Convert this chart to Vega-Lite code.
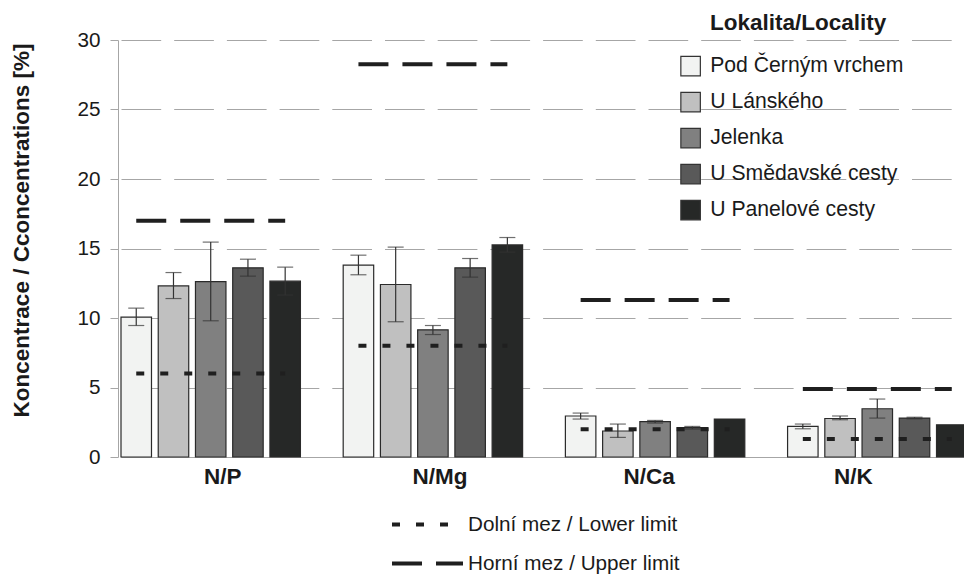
{
  "$schema": "https://vega.github.io/schema/vega-lite/v6.json",
  "width": 846,
  "height": 417,
  "autosize": {"type": "none"},
  "padding": {"left": 118, "top": 40, "right": 0, "bottom": 117},
  "background": "white",
  "config": {
    "view": {"stroke": null},
    "font": "Liberation Sans"
  },
  "datasets": {
    "bars": [
      {"ratio": "N/P", "loc": "Pod Černým vrchem", "value": 10.06, "lo": 9.46, "hi": 10.71},
      {"ratio": "N/P", "loc": "U Lánského", "value": 12.31, "lo": 11.40, "hi": 13.27},
      {"ratio": "N/P", "loc": "Jelenka", "value": 12.62, "lo": 9.80, "hi": 15.46},
      {"ratio": "N/P", "loc": "U Smědavské cesty", "value": 13.61, "lo": 13.01, "hi": 14.23},
      {"ratio": "N/P", "loc": "U Panelové cesty", "value": 12.65, "lo": 11.65, "hi": 13.66},
      {"ratio": "N/Mg", "loc": "Pod Černým vrchem", "value": 13.80, "lo": 13.11, "hi": 14.52},
      {"ratio": "N/Mg", "loc": "U Lánského", "value": 12.41, "lo": 9.73, "hi": 15.10},
      {"ratio": "N/Mg", "loc": "Jelenka", "value": 9.15, "lo": 8.81, "hi": 9.46},
      {"ratio": "N/Mg", "loc": "U Smědavské cesty", "value": 13.61, "lo": 12.94, "hi": 14.28},
      {"ratio": "N/Mg", "loc": "U Panelové cesty", "value": 15.26, "lo": 14.74, "hi": 15.79},
      {"ratio": "N/Ca", "loc": "Pod Černým vrchem", "value": 2.95, "lo": 2.73, "hi": 3.16},
      {"ratio": "N/Ca", "loc": "U Lánského", "value": 1.87, "lo": 1.41, "hi": 2.37},
      {"ratio": "N/Ca", "loc": "Jelenka", "value": 2.54, "lo": 2.44, "hi": 2.63},
      {"ratio": "N/Ca", "loc": "U Smědavské cesty", "value": 2.11, "lo": 2.01, "hi": 2.20},
      {"ratio": "N/Ca", "loc": "U Panelové cesty", "value": 2.73, "lo": null, "hi": null},
      {"ratio": "N/K", "loc": "Pod Černým vrchem", "value": 2.20, "lo": 2.03, "hi": 2.37},
      {"ratio": "N/K", "loc": "U Lánského", "value": 2.77, "lo": 2.68, "hi": 2.95},
      {"ratio": "N/K", "loc": "Jelenka", "value": 3.47, "lo": 2.80, "hi": 4.17},
      {"ratio": "N/K", "loc": "U Smědavské cesty", "value": 2.80, "lo": 2.75, "hi": 2.86},
      {"ratio": "N/K", "loc": "U Panelové cesty", "value": 2.32, "lo": null, "hi": null}
    ],
    "limits": [
      {"ratio": "N/P", "loc": "Pod Černým vrchem", "type": "Dolní mez / Lower limit", "value": 6},
      {"ratio": "N/P", "loc": "U Lánského", "type": "Dolní mez / Lower limit", "value": 6},
      {"ratio": "N/P", "loc": "Jelenka", "type": "Dolní mez / Lower limit", "value": 6},
      {"ratio": "N/P", "loc": "U Smědavské cesty", "type": "Dolní mez / Lower limit", "value": 6},
      {"ratio": "N/P", "loc": "U Panelové cesty", "type": "Dolní mez / Lower limit", "value": 6},
      {"ratio": "N/Mg", "loc": "Pod Černým vrchem", "type": "Dolní mez / Lower limit", "value": 8},
      {"ratio": "N/Mg", "loc": "U Lánského", "type": "Dolní mez / Lower limit", "value": 8},
      {"ratio": "N/Mg", "loc": "Jelenka", "type": "Dolní mez / Lower limit", "value": 8},
      {"ratio": "N/Mg", "loc": "U Smědavské cesty", "type": "Dolní mez / Lower limit", "value": 8},
      {"ratio": "N/Mg", "loc": "U Panelové cesty", "type": "Dolní mez / Lower limit", "value": 8},
      {"ratio": "N/Ca", "loc": "Pod Černým vrchem", "type": "Dolní mez / Lower limit", "value": 2},
      {"ratio": "N/Ca", "loc": "U Lánského", "type": "Dolní mez / Lower limit", "value": 2},
      {"ratio": "N/Ca", "loc": "Jelenka", "type": "Dolní mez / Lower limit", "value": 2},
      {"ratio": "N/Ca", "loc": "U Smědavské cesty", "type": "Dolní mez / Lower limit", "value": 2},
      {"ratio": "N/Ca", "loc": "U Panelové cesty", "type": "Dolní mez / Lower limit", "value": 2},
      {"ratio": "N/K", "loc": "Pod Černým vrchem", "type": "Dolní mez / Lower limit", "value": 1.3},
      {"ratio": "N/K", "loc": "U Lánského", "type": "Dolní mez / Lower limit", "value": 1.3},
      {"ratio": "N/K", "loc": "Jelenka", "type": "Dolní mez / Lower limit", "value": 1.3},
      {"ratio": "N/K", "loc": "U Smědavské cesty", "type": "Dolní mez / Lower limit", "value": 1.3},
      {"ratio": "N/K", "loc": "U Panelové cesty", "type": "Dolní mez / Lower limit", "value": 1.3},
      {"ratio": "N/P", "loc": "Pod Černým vrchem", "type": "Horní mez / Upper limit", "value": 17},
      {"ratio": "N/P", "loc": "U Lánského", "type": "Horní mez / Upper limit", "value": 17},
      {"ratio": "N/P", "loc": "Jelenka", "type": "Horní mez / Upper limit", "value": 17},
      {"ratio": "N/P", "loc": "U Smědavské cesty", "type": "Horní mez / Upper limit", "value": 17},
      {"ratio": "N/P", "loc": "U Panelové cesty", "type": "Horní mez / Upper limit", "value": 17},
      {"ratio": "N/Mg", "loc": "Pod Černým vrchem", "type": "Horní mez / Upper limit", "value": 28.25},
      {"ratio": "N/Mg", "loc": "U Lánského", "type": "Horní mez / Upper limit", "value": 28.25},
      {"ratio": "N/Mg", "loc": "Jelenka", "type": "Horní mez / Upper limit", "value": 28.25},
      {"ratio": "N/Mg", "loc": "U Smědavské cesty", "type": "Horní mez / Upper limit", "value": 28.25},
      {"ratio": "N/Mg", "loc": "U Panelové cesty", "type": "Horní mez / Upper limit", "value": 28.25},
      {"ratio": "N/Ca", "loc": "Pod Černým vrchem", "type": "Horní mez / Upper limit", "value": 11.3},
      {"ratio": "N/Ca", "loc": "U Lánského", "type": "Horní mez / Upper limit", "value": 11.3},
      {"ratio": "N/Ca", "loc": "Jelenka", "type": "Horní mez / Upper limit", "value": 11.3},
      {"ratio": "N/Ca", "loc": "U Smědavské cesty", "type": "Horní mez / Upper limit", "value": 11.3},
      {"ratio": "N/Ca", "loc": "U Panelové cesty", "type": "Horní mez / Upper limit", "value": 11.3},
      {"ratio": "N/K", "loc": "Pod Černým vrchem", "type": "Horní mez / Upper limit", "value": 4.9},
      {"ratio": "N/K", "loc": "U Lánského", "type": "Horní mez / Upper limit", "value": 4.9},
      {"ratio": "N/K", "loc": "Jelenka", "type": "Horní mez / Upper limit", "value": 4.9},
      {"ratio": "N/K", "loc": "U Smědavské cesty", "type": "Horní mez / Upper limit", "value": 4.9},
      {"ratio": "N/K", "loc": "U Panelové cesty", "type": "Horní mez / Upper limit", "value": 4.9}
    ]
  },
  "layer": [
    {
      "data": {"name": "bars"},
      "mark": {"type": "bar", "stroke": "#2a2a2a", "strokeWidth": 1.2},
      "encoding": {
        "x": {
          "field": "ratio", "type": "nominal",
          "sort": ["N/P", "N/Mg", "N/Ca", "N/K"],
          "scale": {"domain": ["N/P", "N/Mg", "N/Ca", "N/K"], "range": [3, 849], "paddingInner": 0.1925, "paddingOuter": 0},
          "axis": {
            "title": null, "grid": false, "ticks": false, "tickSize": 0,
            "domainColor": "#a6a6a6", "domainWidth": 1,
            "labelAngle": 0, "labelPadding": 8, "labelFontSize": 22.5, "labelFontWeight": "bold",
            "labelColor": "#1a1a1a", "labelBaseline": "top",
            "labelOffset": {"condition": [
              {"test": "datum.value === 'N/P'", "value": 12},
              {"test": "datum.value === 'N/Mg'", "value": 7},
              {"test": "datum.value === 'N/Ca'", "value": -6}
            ], "value": -24}
          }
        },
        "xOffset": {
          "field": "loc", "type": "nominal",
          "sort": ["Pod Černým vrchem", "U Lánského", "Jelenka", "U Smědavské cesty", "U Panelové cesty"],
          "scale": {"domain": ["Pod Černým vrchem", "U Lánského", "Jelenka", "U Smědavské cesty", "U Panelové cesty"], "paddingInner": 0.181, "paddingOuter": 0}
        },
        "y": {
          "field": "value", "type": "quantitative",
          "title": "Koncentrace / Cconcentrations [%]",
          "scale": {"domain": [0, 30], "nice": false},
          "axis": {
            "values": [0, 5, 10, 15, 20, 25, 30],
            "grid": true, "gridColor": "#a6a6a6", "gridDash": [39.7, 13], "gridWidth": 1,
            "domainColor": "#a6a6a6", "tickColor": "#a6a6a6", "tickSize": 8,
            "labelPadding": 10, "labelFontSize": 20.7, "labelColor": "#1a1a1a",
            "titleFontSize": 22.5, "titleFontWeight": "bold", "titleColor": "#1a1a1a",
            "titleLimit": 600, "titlePadding": 43, "titleY": 190
          }
        },
        "fill": {
          "field": "loc", "type": "nominal",
          "scale": {
            "domain": ["Pod Černým vrchem", "U Lánského", "Jelenka", "U Smědavské cesty", "U Panelové cesty"],
            "range": ["#f2f3f2", "#c0c0c0", "#808080", "#595959", "#262827"]
          },
          "legend": {
            "title": "Lokalita/Locality", "orient": "none", "legendX": 562, "legendY": -28,
            "padding": 0, "symbolType": "square", "symbolSize": 380,
            "symbolStrokeColor": "#333333", "symbolStrokeWidth": 1.2, "symbolOpacity": 1,
            "labelFontSize": 21.2, "labelOffset": 9, "labelLimit": 300, "labelColor": "#1a1a1a",
            "rowPadding": 11, "titleFontSize": 22.5, "titleFontWeight": "bold", "titleColor": "#1a1a1a",
            "titlePadding": 21, "titleLimit": 300,
            "encode": {"title": {"update": {"dx": {"value": 30}}}}
          }
        }
      }
    },
    {
      "data": {"name": "bars"},
      "transform": [{"filter": "datum.hi != null"}],
      "mark": {"type": "rule", "color": "#333333", "strokeWidth": 1.2},
      "encoding": {
        "x": {"field": "ratio", "type": "nominal", "sort": ["N/P", "N/Mg", "N/Ca", "N/K"]},
        "xOffset": {"field": "loc", "type": "nominal", "sort": ["Pod Černým vrchem", "U Lánského", "Jelenka", "U Smědavské cesty", "U Panelové cesty"]},
        "y": {"field": "lo", "type": "quantitative", "title": "Koncentrace / Cconcentrations [%]"},
        "y2": {"field": "hi"}
      }
    },
    {
      "data": {"name": "bars"},
      "transform": [{"filter": "datum.hi != null"}],
      "mark": {"type": "tick", "color": "#333333", "thickness": 1.2, "size": 16},
      "encoding": {
        "x": {"field": "ratio", "type": "nominal", "sort": ["N/P", "N/Mg", "N/Ca", "N/K"]},
        "xOffset": {"field": "loc", "type": "nominal", "sort": ["Pod Černým vrchem", "U Lánského", "Jelenka", "U Smědavské cesty", "U Panelové cesty"]},
        "y": {"field": "lo", "type": "quantitative", "title": "Koncentrace / Cconcentrations [%]"}
      }
    },
    {
      "data": {"name": "bars"},
      "transform": [{"filter": "datum.hi != null"}],
      "mark": {"type": "tick", "color": "#333333", "thickness": 1.2, "size": 16},
      "encoding": {
        "x": {"field": "ratio", "type": "nominal", "sort": ["N/P", "N/Mg", "N/Ca", "N/K"]},
        "xOffset": {"field": "loc", "type": "nominal", "sort": ["Pod Černým vrchem", "U Lánského", "Jelenka", "U Smědavské cesty", "U Panelové cesty"]},
        "y": {"field": "hi", "type": "quantitative", "title": "Koncentrace / Cconcentrations [%]"}
      }
    },
    {
      "data": {"name": "limits"},
      "mark": {"type": "line", "color": "#1f1f1f", "strokeWidth": 4, "strokeCap": "butt"},
      "encoding": {
        "x": {"field": "ratio", "type": "nominal", "sort": ["N/P", "N/Mg", "N/Ca", "N/K"]},
        "xOffset": {"field": "loc", "type": "nominal", "sort": ["Pod Černým vrchem", "U Lánského", "Jelenka", "U Smědavské cesty", "U Panelové cesty"]},
        "y": {"field": "value", "type": "quantitative", "title": "Koncentrace / Cconcentrations [%]"},
        "detail": {"field": "ratio"},
        "strokeDash": {
          "field": "type", "type": "nominal",
          "scale": {"domain": ["Dolní mez / Lower limit", "Horní mez / Upper limit"], "range": [[8, 16], [30, 14]]},
          "legend": {
            "title": null, "orient": "none", "legendX": 272, "legendY": 465, "padding": 0,
            "direction": "vertical", "symbolType": "stroke", "symbolSize": 5041,
            "symbolStrokeWidth": 4, "symbolStrokeColor": "#1f1f1f", "clipHeight": 39, "rowPadding": 0,
            "labelOffset": 3, "labelFontSize": 20.7, "labelColor": "#1a1a1a", "labelLimit": 300
          }
        }
      }
    }
  ]
}
